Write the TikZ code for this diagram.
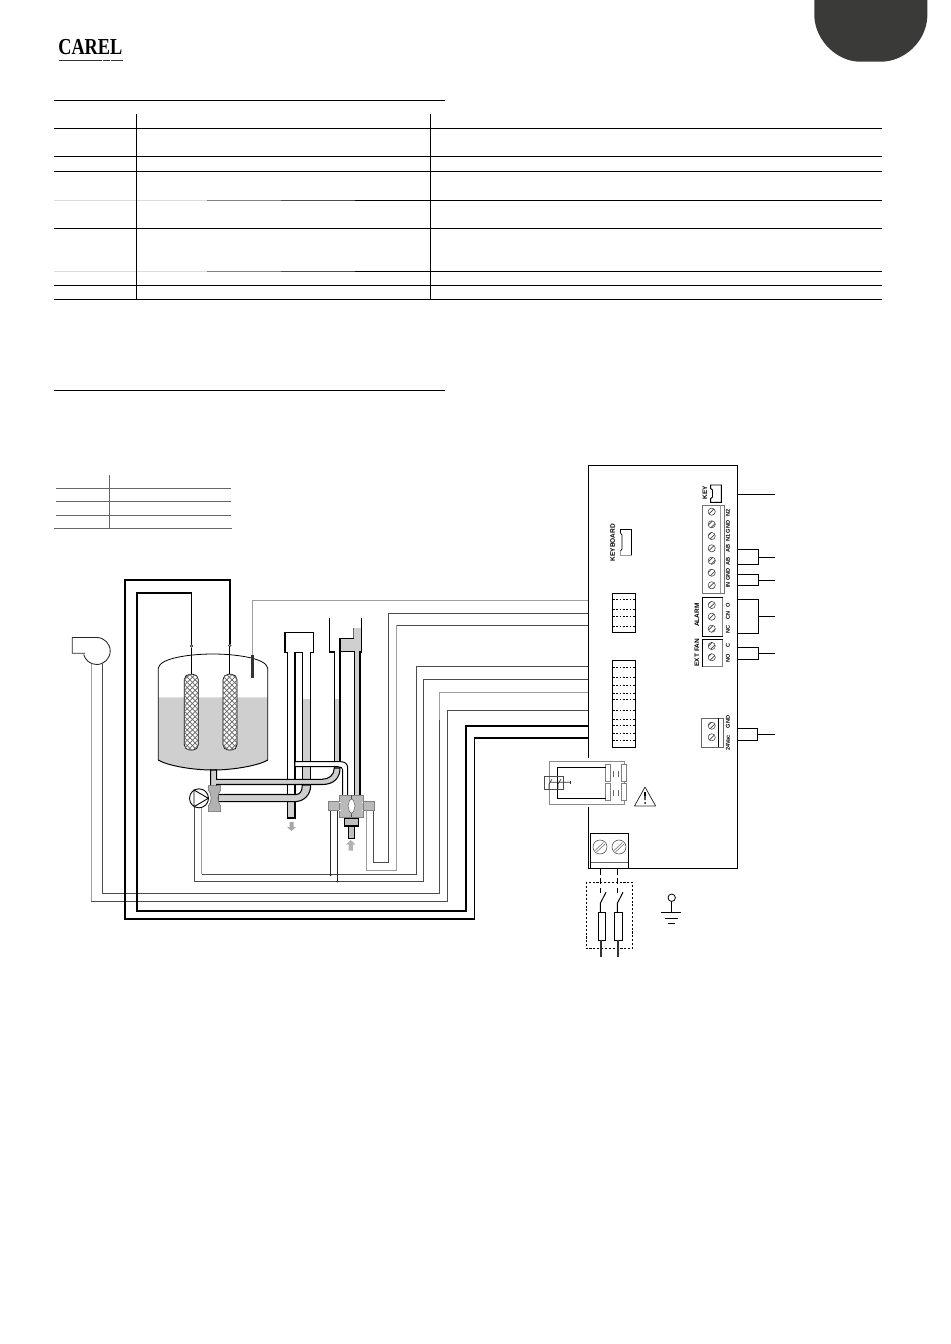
\documentclass[tikz,border=0pt]{standalone}
\usepackage{fontspec}
\setmainfont{Liberation Sans}
\newfontfamily\logofont{Liberation Serif}
\usetikzlibrary{patterns}

\definecolor{tabgray}{HTML}{3A3A38}
\definecolor{watergray}{HTML}{CFCFCF}
\definecolor{rulegray}{HTML}{666666}

\tikzset{
  pinlabel/.style={font=\bfseries\fontsize{3.2}{4}\selectfont,rotate=90,inner sep=0pt},
  blocklabel/.style={font=\bfseries\fontsize{3.7}{4}\selectfont,rotate=90,inner sep=0pt},
  wirethin/.style={draw=black!70,line width=0.4pt},
  wirelight/.style={draw=black!38,line width=0.5pt},
  wirethick/.style={draw=black,line width=1.1pt},
  blockline/.style={draw=black,line width=0.55pt},
  dotpin/.style={draw=black,line width=0.35pt,dash pattern=on 1pt off 0.9pt},
  screw/.style={draw=black!75,line width=0.3pt,pattern=north east lines,pattern color=black!75},
  pipeline/.style={draw=black,line width=0.6pt},
  pipefill/.style={fill=watergray,draw=black,line width=0.6pt},
  valvepart/.style={fill=black!27,draw=black!50,line width=0.3pt}
}

\begin{document}
\begin{tikzpicture}[x=0.02cm,y=-0.02cm]
  \useasboundingbox (0,0) rectangle (950,1344);
  % Page tab and logo:
  \fill[tabgray] (814.3,0) -- (814.3,17) .. controls (816,42) and (838,61.7) .. (860,61.7) -- (881,61.7) .. controls (904,61.7) and (926,42) .. (927.3,17) -- (927.3,0) -- cycle;
  \node[inner sep=0pt,anchor=base west] (logo) at (58,55) {\logofont\bfseries\fontsize{13}{13}\selectfont\scalebox{.8}[1]{CAREL}};
  \draw[black!80,line width=1pt] (59,60.5) -- (102,60.5) (103,60.5) -- (109.5,60.5) (111,60.5) -- (123,60.5);

  % Heading rules:
  \draw[line width=0.55pt] (54,100.5) -- (445,100.5);
  \draw[line width=0.55pt] (54,390.5) -- (445,390.5);

  % Upper table:
  \foreach \yrow in {128.5,156.5,171.5,228.5,285.5,299.5}
    \draw[line width=0.55pt] (54,\yrow) -- (882,\yrow);
  \foreach \yrow in {200.5,271.5} {
    \draw[line width=0.55pt,black!14] (54,\yrow) -- (207,\yrow);
    \draw[line width=0.55pt,black!50] (207,\yrow) -- (281,\yrow);
    \draw[line width=0.55pt,black!70] (281,\yrow) -- (355,\yrow);
    \draw[line width=0.55pt] (355,\yrow) -- (882,\yrow);
  }
  \draw[line width=0.55pt] (136.5,114) -- (136.5,299.5);
  \draw[line width=0.55pt] (430.5,114) -- (430.5,299.5);

  % Small table:
  \foreach \yrow in {488.5,501.5,515}
    \draw[rulegray,line width=0.55pt] (56,\yrow) -- (231,\yrow);
  \draw[rulegray,line width=0.55pt] (54,528) -- (232,528);
  \draw[rulegray,line width=0.55pt] (109.5,475) -- (109.5,528);

  % Board outline:
  \draw[line width=0.6pt] (588.5,758) -- (588.5,465.5) -- (737.5,465.5) -- (737.5,868.5) -- (588.5,868.5) -- (588.5,806.5);

  % Board connectors:
  \draw[blockline] (620.5,533) -- (620.5,529) -- (631.5,529) -- (631.5,555);
  \draw[black!40,line width=0.55pt] (631.5,555) -- (620.5,555) -- (620.5,551);
  \draw[line width=0.4pt] (620.5,533) -- (622,535) -- (622,549) -- (620.5,551);
  \node[blocklabel] (keyboard) at (612.7,542.7) {KEYBOARD};
  \draw[blockline] (612.3,593.3) rectangle (635.7,632.3);
  \foreach \ypin in {599.3,609,616,626}
    \draw[dotpin] (613,\ypin) -- (635,\ypin);
  \draw[blockline] (635.7,660.3) -- (612,660.3) -- (612,747.7) -- (635.7,747.7) -- cycle;
  \foreach \ypin in {667.3,677.7,685,693.3,699.3,710,719.3,725,733.3,740.7}
    \draw[dotpin] (613,\ypin) -- (635,\ypin);

  % KEY connector:
  \draw[blockline] (710.7,485) -- (721.3,485) -- (721.3,502.3) -- (710.7,502.3) -- (710.7,498.5) -- (712.5,497) -- (712.5,490) -- (710.7,488.5) -- cycle;
  \node[blocklabel] (key) at (705,493) {KEY};

  % Terminal blocks:
  \draw[black!55,line width=0.55pt] (702,505) rectangle (724,593);
  \draw[black!40,line width=0.35pt] (720,505) -- (720,593);
  \foreach \yscrew in {511.7,524.3,536,548.3,560.7,572.7,585.3}
    \draw[screw] (711.7,\yscrew) circle (3.6);
  \draw[black!50,line width=0.55pt] (702.5,597.3) rectangle (722.7,636.7);
  \draw[black,line width=0.55pt] (722.7,597.3) -- (702.5,597.3) -- (702.5,636.7) -- (722.7,636.7);
  \foreach \yscrew in {605,616.7,628.7}
    \draw[screw] (711.7,\yscrew) circle (3.6);
  \draw[black!50,line width=0.55pt] (702.5,639.3) rectangle (722.7,666.7);
  \draw[black,line width=0.55pt] (722.7,639.3) -- (702.5,639.3) -- (702.5,666.7);
  \foreach \yscrew in {646,657.3}
    \draw[screw] (711.7,\yscrew) circle (3.6);
  \draw[black!60,line width=0.55pt] (701.5,718) rectangle (723,747);
  \draw[line width=0.45pt] (718.3,718) -- (718.3,747);
  \foreach \yscrew in {725.7,737.3}
    \draw[screw] (711.7,\yscrew) circle (3.6);

  % Terminal labels:
  \node[pinlabel] (pinIN) at (728,585) {IN};
  \node[pinlabel] (pinGa) at (728,574.5) {GND};
  \node[pinlabel] (pinAa) at (728,561) {AB};
  \node[pinlabel] (pinAb) at (728,548.8) {AB};
  \node[pinlabel] (pinNa) at (728,537.8) {N1};
  \node[pinlabel] (pinGb) at (728,527) {GND};
  \node[pinlabel] (pinNb) at (728,512.5) {N2};
  \node[pinlabel] (pinO) at (728,605) {O};
  \node[pinlabel] (pinCN) at (728,615.5) {CN};
  \node[pinlabel] (pinNC) at (728,629) {NC};
  \node[pinlabel] (pinC) at (728,645) {C};
  \node[pinlabel] (pinNO) at (728,658) {NO};
  \node[pinlabel] (pinGc) at (728,722) {GND};
  \node[pinlabel] (pinV) at (728,743) {24Vac};
  \node[blocklabel] (alarm) at (697,615) {ALARM};
  \node[blocklabel] (extfan) at (697,652.7) {EXT FAN};

  % Wires on the right of the board:
  \draw[blockline] (737.5,494.3) -- (775,494.3);
  \draw[blockline] (737.5,549.3) -| (758.3,564) -- (737.5,564) (758.3,557.7) -- (775,557.7);
  \draw[blockline] (737.5,574) -| (758.3,585) -- (737.5,585) (758.3,580.7) -- (775,580.7);
  \draw[blockline] (737.5,599.3) -| (758.3,633.3) -- (737.5,633.3) (758.3,616) -- (775,616);
  \draw[blockline] (737.5,647.3) -| (758.3,659.3) -- (737.5,659.3) (758.3,653.3) -- (775,653.3);
  \draw[blockline] (737.5,728.3) -| (757.3,740) -- (737.5,740) (757.3,734.3) -- (775,734.3);

  % Wire ends:
  \coordinate (probe) at (252.3,655);
  \coordinate (elecA) at (191.5,644.5);
  \coordinate (elecB) at (229.7,644);
  \coordinate (fanA) at (102,664);
  \coordinate (fanB) at (91.3,664);
  \coordinate (pumpA) at (201.7,806);
  \coordinate (pumpB) at (194,806);
  \coordinate (coilA) at (373.3,811);
  \coordinate (coilB) at (366.7,811);
  \coordinate (coilC) at (330.7,811);
  \coordinate (coilD) at (337.3,811);

  % Wires:
  \draw[wirelight] (588,600.7) -| (probe);
  \draw[wirethin] (588,613.3) -| (388,862.3) -| (coilA);
  \draw[wirethin] (588,625.3) -- (396,625.3);
  \draw[wirelight] (396,625.3) |- (366.7,870) -- (coilB);
  \draw[wirethin] (588,666.5) -| (416,874.3) -- (201.7,874.3);
  \draw[wirelight] (201.7,874.3) -- (pumpA);
  \draw[wirethin] (588,679.3) -| (423.3,881.3) -| (pumpB);
  \draw[wirelight] (588,692.5) -- (439.3,692.5) -- (439.3,720);
  \draw[wirethin] (439.3,720) -- (439.3,893.3) -| (fanA);
  \draw[wirethin] (588,710.3) -| (447.7,901.3) -- (91.3,901.3);
  \draw[wirelight] (91.3,901.3) -- (fanB);
  \draw[wirethick] (588,725.7) -| (466.3,910.7) -| (136.7,592.7) -| (elecA);
  \draw[wirethick] (588,737.7) -| (474.5,919.3) -| (125,580) -| (elecB);
  \fill (330.7,875) circle (1) (337.3,881.5) circle (1);

  % Fan:
  \draw[black!85,line width=0.5pt] (85,653.3) -- (72.3,653.3) -- (72.3,637.5) -- (96.7,637.5) arc (-90:165:13.5);

  % Tank:
  \fill[watergray] (158.3,697.3) -- (267.7,697.3) -- (267.7,760) .. controls (260,765) and (235,770) .. (213,770) .. controls (190,770) and (166,765) .. (158.3,760) -- cycle;
  \draw[line width=0.45pt] (158.3,760) -- (158.3,668) .. controls (160,658) and (190,654) .. (213,654) .. controls (235,654) and (266,658) .. (267.7,668) -- (267.7,760);
  \draw[line width=0.55pt] (158.3,760) .. controls (166,765) and (190,770) .. (213,770) .. controls (235,770) and (260,765) .. (267.7,760);
  % Electrodes:
  \foreach \xelec in {184.3,223} {
    \filldraw[fill=white,draw=black,line width=0.4pt,rounded corners=3] (\xelec,674.3) rectangle (\xelec+14,750);
    \fill[pattern=crosshatch,pattern color=black!60,rounded corners=3] (\xelec,674.3) rectangle (\xelec+14,750);
  }
  \draw[line width=0.4pt] (191.5,648) -- (191.5,674.3) (229.7,647) -- (229.7,674.3);
  \filldraw[fill=white,line width=0.3pt] (191.5,646) circle (1.3) (229.7,645.5) circle (1.3);
  \fill[black!80] (251,655) rectangle (253.7,678);

  % Overflow trap:
  \fill[watergray] (302.5,699) rectangle (310.7,790);
  \fill[watergray] (287.7,801) rectangle (295,818);
  \draw[pipeline] (287.7,652.3) -- (285,652.3) -- (285,632.3) -- (313.3,632.3) -- (313.3,652.3) -- (310.7,652.3) -- (310.7,790);
  \draw[pipeline] (287.7,652.3) -- (287.7,818) -- (295,818) -- (295,652.3) -- (302.3,652.3) -- (302.3,790);
  \fill[black!35] (289.5,822) -- (293.5,822) -- (293.5,827) -- (296,827) -- (291.5,831) -- (287,827) -- (289.5,827) -- cycle;

  % Fill tower:
  \fill[watergray] (340,638.3) rectangle (353.5,651.7);
  \fill[watergray] (353.5,628.3) rectangle (361.7,651.7);
  \fill[watergray] (334.3,699) rectangle (340,768);
  \fill[watergray] (355,651.7) rectangle (360,796);
  \draw[pipeline] (329.3,617.7) -- (329.3,652) -- (334.3,652) -- (334.3,768);
  \draw[pipeline] (353.5,638.3) -- (340,638.3) -- (340,768);
  \draw[pipeline] (340,651.7) -- (354.7,651.7);
  \draw[pipeline] (361.7,617.7) -- (361.7,652) -- (360,652) -- (360,796);
  \draw[line width=0.4pt,black!60] (353.5,638.3) -- (353.5,628.3);
  \draw[pipeline] (354.7,651.7) -- (354.7,796);

  % Supply pipe from the tank to the tower:
  \draw[pipefill] (210.7,770) -- (210.7,787) -- (216.7,787) -- (216.7,784.5) -- (322,784.5) .. controls (334,784.5) and (340,778) .. (340,768) -- (334.3,768) .. controls (334.3,775) and (329,779.3) .. (322,779.3) -- (216.7,779.3) -- (216.7,770) -- cycle;
  % Pipe from the pump valve to the trap:
  \draw[pipefill] (218,794.5) -- (296,794.5) .. controls (300,794.5) and (302.3,791) .. (302.3,785) -- (310.7,785) .. controls (310.7,795) and (304,801.7) .. (294,801.7) -- (218,801.7) -- cycle;
  % White pipe to the valve:
  \filldraw[fill=white,line width=0.55pt] (295,761.7) -- (341,761.7) .. controls (345,761.7) and (347.7,764) .. (347.7,768) -- (347.7,797) -- (342.7,797) -- (342.7,770) .. controls (342.7,768) and (341,766.7) .. (338,766.7) -- (295,766.7) -- cycle;

  % Pump and outlet valve:
  \filldraw[fill=white,line width=0.5pt] (199,798.3) circle (9.5);
  \draw[line width=0.5pt] (194,790) -- (194,806.7) -- (208.3,798.3) -- cycle;
  \filldraw[fill=black!30,line width=0.3pt,draw=black!60] (208.3,785.7) -- (220.7,785.7) -- (220.7,790) .. controls (217,794) and (217,802) .. (220.7,806) -- (220.7,811.7) -- (208.3,811.7) -- (208.3,806) .. controls (212,802) and (212,794) .. (208.3,790) -- cycle;

  % Fill valve:
  \fill[valvepart] (328.3,801.7) rectangle (374.3,810.7);
  \fill[valvepart] (339.3,795) rectangle (363.3,817.3);
  \draw[white,line width=0.8pt] (340,801.7) -- (340,803) (340,809.5) -- (340,810.7) (362.7,801.7) -- (362.7,803) (362.7,809.5) -- (362.7,810.7);
  \draw[black!70,line width=0.45pt] (351.3,795) -- (351.3,799) (351.3,813.3) -- (351.3,817.3);
  \filldraw[fill=white,draw=black!60,line width=0.3pt] (348,806) -- (349.5,800.5) -- (351.5,799) -- (353.5,800.5) -- (355,806) -- (353.5,811.5) -- (351.5,813.3) -- (349.5,811.5) -- cycle;
  \filldraw[fill=black!25,line width=0.6pt] (344.3,818.3) rectangle (358.3,826);
  \filldraw[fill=black!25,line width=0.6pt] (348.3,826.7) rectangle (354.3,838.3);
  \fill[black!30] (348.5,850.5) -- (353,850.5) -- (353,844.5) -- (355.5,844.5) -- (350.7,840) -- (346,844.5) -- (348.5,844.5) -- cycle;
  \draw[black!85,line width=0.45pt] (coilC) -- (330.7,875) (coilD) -- (337.3,881.5);

  % Contactor:
  \draw[black!45,line width=0.55pt] (549,761.7) rectangle (624,804);
  \foreach \yterm in {764,783.3} {
    \filldraw[fill=white,draw=black!50,line width=0.4pt] (605.7,\yterm) rectangle (610.7,\yterm+17);
    \filldraw[fill=white,draw=black!50,line width=0.4pt] (621.7,\yterm) rectangle (626.7,\yterm+17);
    \draw[black!60,line width=0.3pt] (613,\yterm+7) -- (613,\yterm+13) (618,\yterm+7) -- (618,\yterm+13);
  }
  \draw[line width=0.55pt] (605.7,767.3) -| (557.3,798.3) -- (605.7,798.3);
  \draw[line width=0.55pt,black!70] (544,776) rectangle (563.3,789.3);
  \draw[line width=0.35pt,black!80] (549,789.3) -- (549,784) -- (552,779) (558,789.3) -- (558,784) -- (561,779) (549.5,782.3) -- (570,782.3);
  \draw[line width=0.35pt,black!80] (570,780.5) -- (570,784);

  % Warning sign:
  \draw[line width=0.45pt,black!80,line join=round] (634.5,806) -- (645,787) -- (655.7,806) -- cycle;
  \fill (644,792) -- (646,792) -- (645.5,800) -- (644.5,800) -- cycle;
  \fill (645,803) circle (1);

  % Mains terminal:
  \draw[line width=0.55pt] (590.7,868.3) -- (590.7,833.3) -- (628.3,833.3) -- (628.3,868.3);
  \draw[black!60,line width=0.4pt] (590.7,862.3) -- (628.3,862.3);
  \draw[black!75,line width=0.3pt] (600,847) circle (7) (619,847) circle (7);
  \draw[black!60,line width=0.3pt] (595,850.5) -- (603.5,842.5) (614,850.5) -- (622.5,842.5);
  \draw[black!60,line width=0.3pt] (596.5,852) -- (605,844) (615.5,852) -- (624,844);

  % Mains feed with switches and fuses:
  \draw[line width=0.4pt,dash pattern=on 1.2pt off 1pt] (586.3,882.3) rectangle (632.3,948.7);
  \draw[line width=0.55pt,dash pattern=on 3.5pt off 2pt] (600.3,868.5) -- (600.3,893);
  \draw[line width=0.55pt,dash pattern=on 3.5pt off 2pt] (617.3,868.5) -- (617.3,893);
  \draw[line width=0.55pt] (600.3,912.3) -- (600.3,903.3) -- (606,892.3);
  \draw[line width=0.55pt] (617.3,912.3) -- (617.3,903.3) -- (623,892.3);
  \filldraw[fill=white,line width=0.55pt] (598,912.3) rectangle (605.7,940.3);
  \filldraw[fill=white,line width=0.55pt] (614.3,912.3) rectangle (622.3,940.3);
  \draw[black!80,line width=0.75pt] (601,940.3) -- (601,957.3) (618,940.3) -- (618,957.3);

  % Earth:
  \draw[line width=0.45pt] (671.7,897.7) circle (3.7);
  \draw[line width=0.45pt] (671.7,901.4) -- (671.7,912.7);
  \draw[line width=0.45pt] (661.3,912.7) -- (681.3,912.7) (664.7,918.3) -- (678,918.3) (668,923.3) -- (675,923.3);
\end{tikzpicture}
\end{document}
